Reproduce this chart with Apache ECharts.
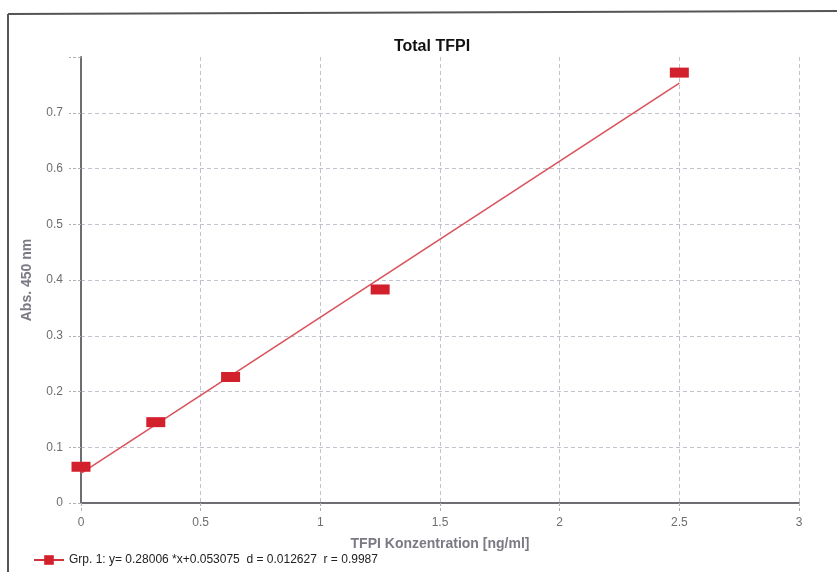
<!DOCTYPE html>
<html>
<head>
<meta charset="utf-8">
<script src="https://cdn.jsdelivr.net/npm/echarts@6/dist/echarts.min.js"></script>
<style>
  html, body { margin: 0; padding: 0; background: #fff; }
  #chart { width: 837px; height: 572px; }
</style>
</head>
<body>
<div id="chart"></div>
<script>
// Standard curve: TFPI concentration vs. absorbance at 450 nm
const concentrations = [0, 0.3125, 0.625, 1.25, 2.5];
const absorbances = [0.065, 0.145, 0.226, 0.383, 0.772];

// Linear fit reported for the group
const fitSlope = [0.28006];
const fitIntercept = [0.053075];
const fitRange = [0, 2.5];
const fitLabel = 'Grp. 1: y= 0.28006 *x+0.053075  d = 0.012627  r = 0.9987';

const xTicks = [0, 0.5, 1, 1.5, 2, 2.5, 3];
const yTicks = [0, 0.1, 0.2, 0.3, 0.4, 0.5, 0.6, 0.7];

const fitLine = fitRange.map(x => [x, fitSlope[0] * x + fitIntercept[0]]);

const font = 'Liberation Sans, Arial, sans-serif';
const gridLine = { color: '#c2c2cc', width: 1, type: [4, 3] };
const tickLine = { color: '#b0b0ba', width: 1, type: [3, 2] };

const chart = echarts.init(document.getElementById('chart'), null, { renderer: 'canvas' });
chart.setOption({
  animation: false,
  backgroundColor: '#ffffff',
  title: {
    text: 'Total TFPI',
    left: 427, top: 34, textAlign: 'center',
    textStyle: { fontFamily: font, fontSize: 16, fontWeight: 'bold', color: '#111' }
  },
  grid: { left: 81, right: 38, top: 57, bottom: 69, containLabel: false },
  legend: {
    left: 28, top: 549,
    itemWidth: 30, itemHeight: 12,
    textStyle: { fontFamily: font, fontSize: 12, color: '#222' },
    lineStyle: { color: '#d2323c', width: 2, opacity: 1 },
    data: [fitLabel]
  },
  xAxis: {
    type: 'value', min: 0, max: 3, interval: 0.5,
    name: 'TFPI Konzentration [ng/ml]',
    nameLocation: 'middle', nameGap: 34,
    nameTextStyle: { fontFamily: font, fontSize: 14, fontWeight: 'bold', color: '#7a7a84' },
    axisLine: { show: true, lineStyle: { color: '#6e6e72', width: 2 } },
    axisTick: { show: true, length: 8, lineStyle: tickLine },
    axisLabel: {
      fontFamily: font, fontSize: 12, color: '#6e6e72', margin: 14,
      formatter: v => xTicks.includes(v) ? String(v) : ''
    },
    splitLine: { show: true, showMinLine: false, lineStyle: gridLine }
  },
  yAxis: {
    type: 'value', min: 0, max: 0.8, interval: 0.1,
    name: 'Abs. 450 nm',
    nameLocation: 'middle', nameGap: 47,
    nameTextStyle: { fontFamily: font, fontSize: 14, fontWeight: 'bold', color: '#7a7a84' },
    axisLine: { show: true, lineStyle: { color: '#6e6e72', width: 2 } },
    axisTick: { show: true, length: 12, lineStyle: tickLine },
    axisLabel: {
      fontFamily: font, fontSize: 12, color: '#6e6e72', margin: 18,
      formatter: v => yTicks.some(t => Math.abs(t - v) < 1e-9) ? String(Math.round(v * 10) / 10) : ''
    },
    splitLine: { show: true, showMinLine: false, showMaxLine: false, lineStyle: gridLine }
  },
  series: [
    {
      name: 'fit',
      type: 'line',
      data: fitLine,
      symbol: 'none',
      lineStyle: { color: '#d9535d', width: 1.6 },
      z: 2
    },
    {
      name: fitLabel,
      type: 'line',
      data: concentrations.map((c, i) => [c, absorbances[i]]),
      symbol: 'rect',
      symbolSize: [19, 10],
      showSymbol: true,
      itemStyle: { color: '#d2202c' },
      lineStyle: { opacity: 0 },
      z: 3
    }
  ],
  graphic: [
    { type: 'line', shape: { x1: 8, y1: 14, x2: 8, y2: 572 }, style: { stroke: '#555', lineWidth: 2 } },
    { type: 'line', shape: { x1: 8, y1: 14, x2: 837, y2: 11 }, style: { stroke: '#555', lineWidth: 2 } }
  ]
});
</script>
</body>
</html>
